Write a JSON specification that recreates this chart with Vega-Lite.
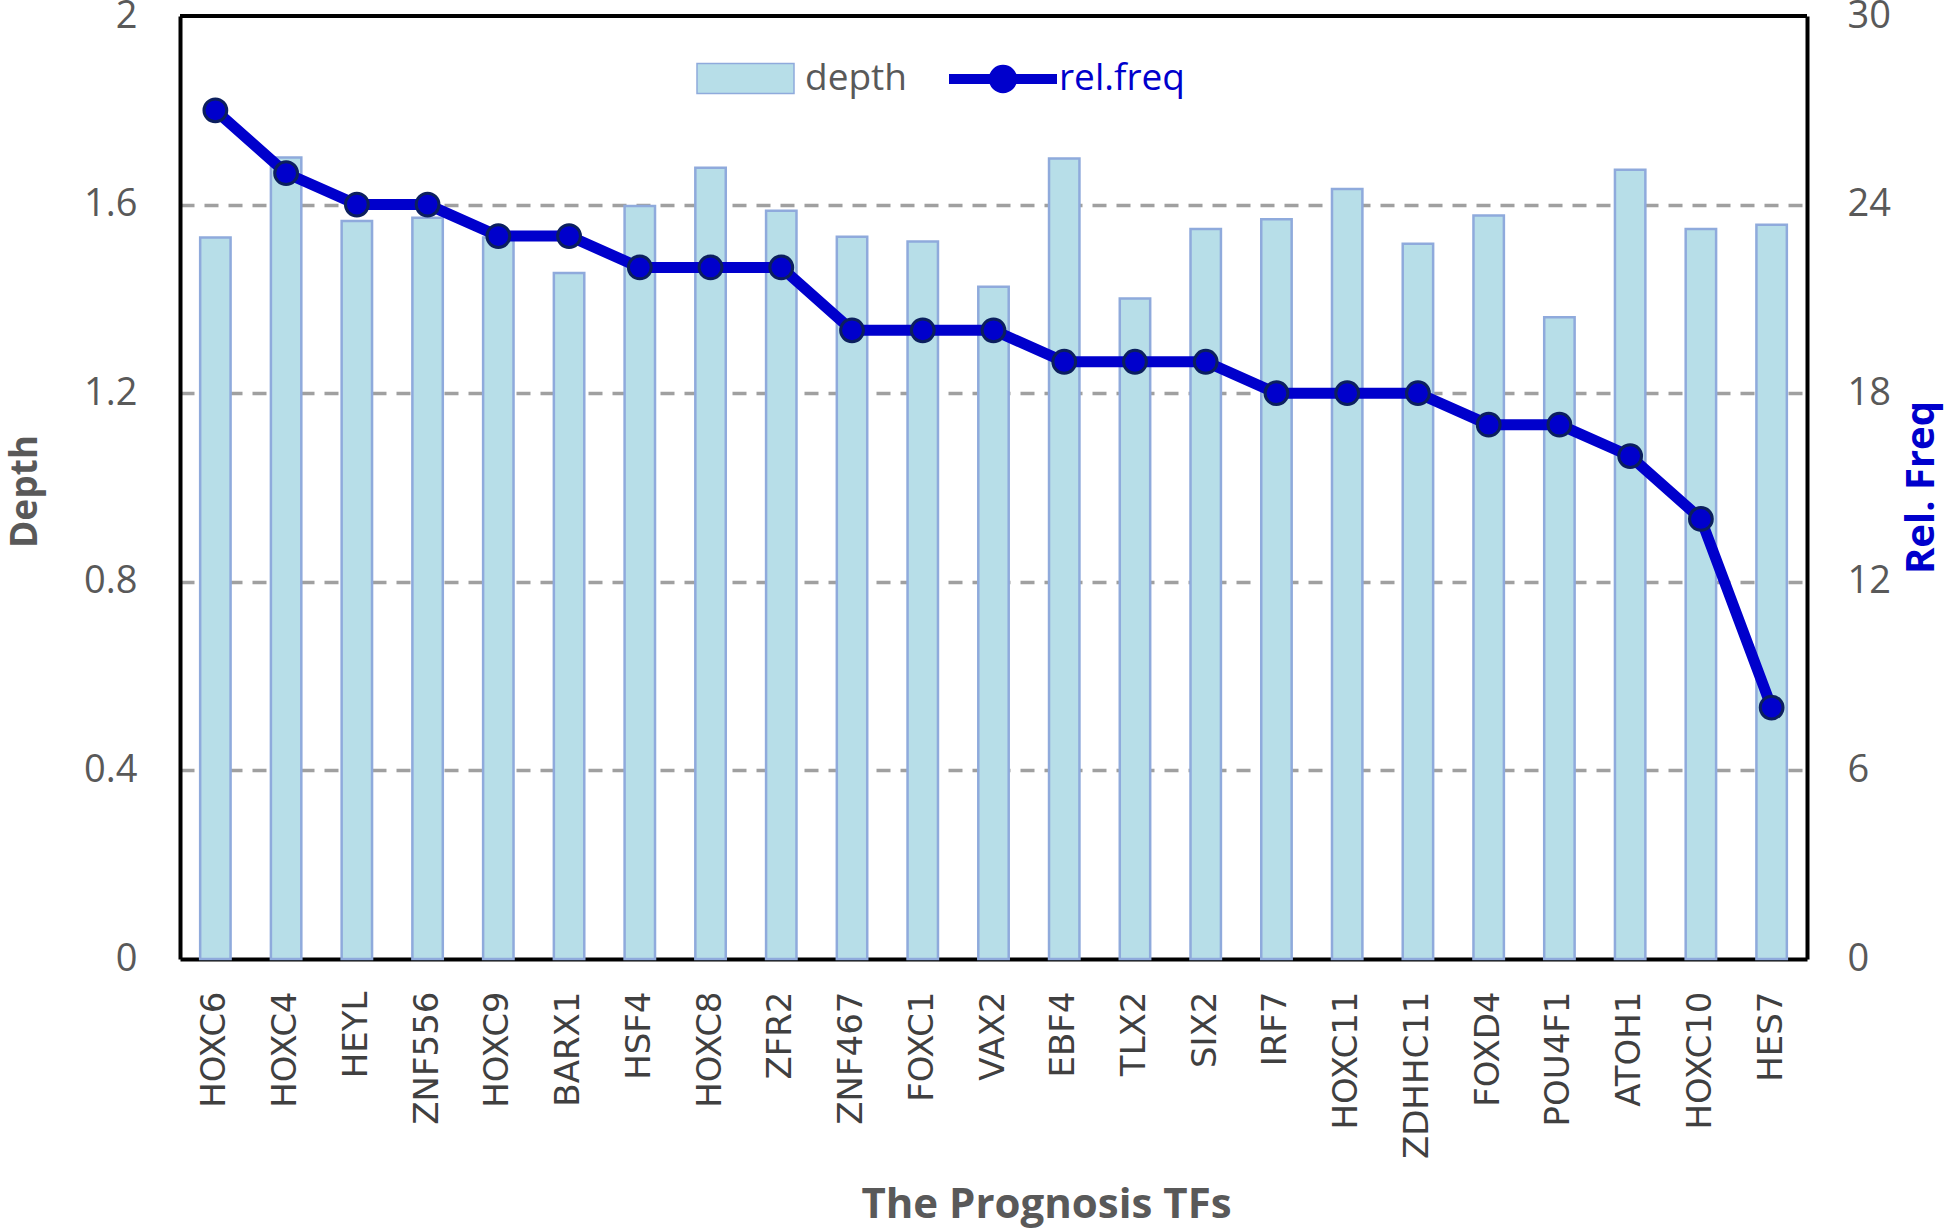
{
  "$schema": "https://vega.github.io/schema/vega-lite/v6.json",
  "width": 1627,
  "height": 943,
  "autosize": {"type": "none"},
  "padding": {"left": 180, "top": 16, "right": 139, "bottom": 272},
  "background": "white",
  "config": {
    "font": "Open Sans",
    "view": {"stroke": null}
  },
  "data": {
    "values": [
      {"gene": "HOXC6", "depth": 1.53, "freq": 27},
      {"gene": "HOXC4", "depth": 1.70, "freq": 25},
      {"gene": "HEYL", "depth": 1.565, "freq": 24},
      {"gene": "ZNF556", "depth": 1.572, "freq": 24},
      {"gene": "HOXC9", "depth": 1.53, "freq": 23},
      {"gene": "BARX1", "depth": 1.455, "freq": 23},
      {"gene": "HSF4", "depth": 1.597, "freq": 22},
      {"gene": "HOXC8", "depth": 1.678, "freq": 22},
      {"gene": "ZFR2", "depth": 1.587, "freq": 22},
      {"gene": "ZNF467", "depth": 1.532, "freq": 20},
      {"gene": "FOXC1", "depth": 1.522, "freq": 20},
      {"gene": "VAX2", "depth": 1.426, "freq": 20},
      {"gene": "EBF4", "depth": 1.698, "freq": 19},
      {"gene": "TLX2", "depth": 1.401, "freq": 19},
      {"gene": "SIX2", "depth": 1.548, "freq": 19},
      {"gene": "IRF7", "depth": 1.569, "freq": 18},
      {"gene": "HOXC11", "depth": 1.633, "freq": 18},
      {"gene": "ZDHHC11", "depth": 1.517, "freq": 18},
      {"gene": "FOXD4", "depth": 1.577, "freq": 17},
      {"gene": "POU4F1", "depth": 1.361, "freq": 17},
      {"gene": "ATOH1", "depth": 1.674, "freq": 16},
      {"gene": "HOXC10", "depth": 1.548, "freq": 14},
      {"gene": "HES7", "depth": 1.557, "freq": 8}
    ]
  },
  "encoding": {
    "x": {
      "field": "gene",
      "type": "nominal",
      "sort": null,
      "scale": {"paddingInner": 0, "paddingOuter": 0},
      "axis": {
        "title": "The Prognosis TFs",
        "titleFont": "Open Sans",
        "titleFontWeight": "bold",
        "titleFontSize": 42,
        "titleColor": "#595959",
        "titleX": 866,
        "titleY": 245,
        "titleAlign": "center",
        "titleBaseline": "middle",
        "titleAnchor": null,
        "labelAngle": 270,
        "labelFont": "DejaVu Sans",
        "labelFontSize": 34,
        "labelColor": "#404040",
        "labelPadding": 32,
        "ticks": false,
        "domain": true,
        "domainColor": "black",
        "domainWidth": 4,
        "grid": false
      }
    }
  },
  "layer": [
    {
      "mark": {"type": "bar", "width": {"band": 0.43}, "stroke": "#8faadc", "strokeWidth": 2.5},
      "encoding": {
        "y": {
          "field": "depth",
          "type": "quantitative",
          "scale": {"domain": [0, 2], "nice": false},
          "axis": {
            "orient": "left",
            "values": [0, 0.4, 0.8, 1.2, 1.6, 2],
            "format": "~g",
            "title": "Depth",
            "titleFont": "Open Sans",
            "titleFontWeight": "bold",
            "titleFontSize": 37,
            "titleColor": "#595959",
            "titleAngle": 270,
            "titleX": -155,
            "titleY": 475,
            "titleAlign": "center",
            "titleBaseline": "middle",
            "labelFont": "Open Sans",
            "labelFontSize": 38,
            "labelColor": "#595959",
            "labelPadding": 43,
            "ticks": false,
            "domain": true,
            "domainColor": "black",
            "domainWidth": 4,
            "grid": true,
            "gridColor": "#a0a0a0",
            "gridWidth": 3.5,
            "gridDash": [14, 10],
            "gridOpacity": {"condition": {"test": "datum.value <= 0 || datum.value >= 2", "value": 0}, "value": 1}
          }
        },
        "fill": {
          "datum": "depth",
          "scale": {"range": ["#b7dee8"]},
          "legend": {
            "title": null,
            "orient": "none",
            "legendX": 516,
            "legendY": 13,
            "padding": 0,
            "symbolType": "M-1,-0.31H1V0.31H-1Z",
            "symbolSize": 9409,
            "labelFont": "Open Sans",
            "labelFontSize": 37,
            "labelColor": "#595959",
            "labelOffset": 10,
            "encode": {
              "symbols": {
                "update": {
                  "fill": {"value": "#b7dee8"},
                  "stroke": {"value": "#8faadc"},
                  "strokeWidth": {"value": 2.5},
                  "opacity": {"value": 1}
                }
              }
            }
          }
        }
      }
    },
    {
      "encoding": {
        "y": {
          "field": "freq",
          "type": "quantitative",
          "scale": {"domain": [0, 30], "nice": false},
          "axis": {
            "orient": "right",
            "values": [0, 6, 12, 18, 24, 30],
            "title": "Rel. Freq",
            "titleFont": "Open Sans",
            "titleFontWeight": "bold",
            "titleFontSize": 40,
            "titleColor": "#0000cc",
            "titleAngle": 270,
            "titleX": 114,
            "titleY": 471,
            "titleAlign": "center",
            "titleBaseline": "middle",
            "labelFont": "Open Sans",
            "labelFontSize": 38,
            "labelColor": "#595959",
            "labelPadding": 40,
            "ticks": false,
            "domain": true,
            "domainColor": "black",
            "domainWidth": 4,
            "grid": false
          }
        }
      },
      "layer": [
        {
          "mark": {"type": "line", "strokeWidth": 11},
          "encoding": {
            "stroke": {
              "datum": "rel.freq",
              "scale": {"range": ["#0000cc"]},
              "legend": {
                "title": null,
                "orient": "none",
                "legendX": 764,
                "legendY": 4,
                "padding": 0,
                "symbolType": "M-1,0H1M-0.17,0A0.17,0.17 0 1,1 0.17,0A0.17,0.17 0 1,1 -0.17,0Z",
                "symbolSize": 11664,
                "labelFont": "Open Sans",
                "labelFontSize": 37,
                "labelColor": "#0000cc",
                "labelOffset": -3,
                "encode": {
                  "symbols": {
                    "update": {
                      "fill": {"value": "#0000cc"},
                      "stroke": {"value": "#0000cc"},
                      "strokeWidth": {"value": 10},
                      "opacity": {"value": 1}
                    }
                  }
                }
              }
            }
          }
        },
        {
          "mark": {"type": "circle", "size": 520, "fill": "#0000cc", "stroke": "#0c1f5e", "strokeWidth": 3, "opacity": 1}
        }
      ]
    },
    {
      "mark": {"type": "rule", "stroke": "black", "strokeWidth": 4},
      "encoding": {"x": {"value": 0}, "x2": {"value": 1627}, "y": {"value": 0}}
    }
  ],
  "resolve": {"scale": {"y": "independent"}}
}
